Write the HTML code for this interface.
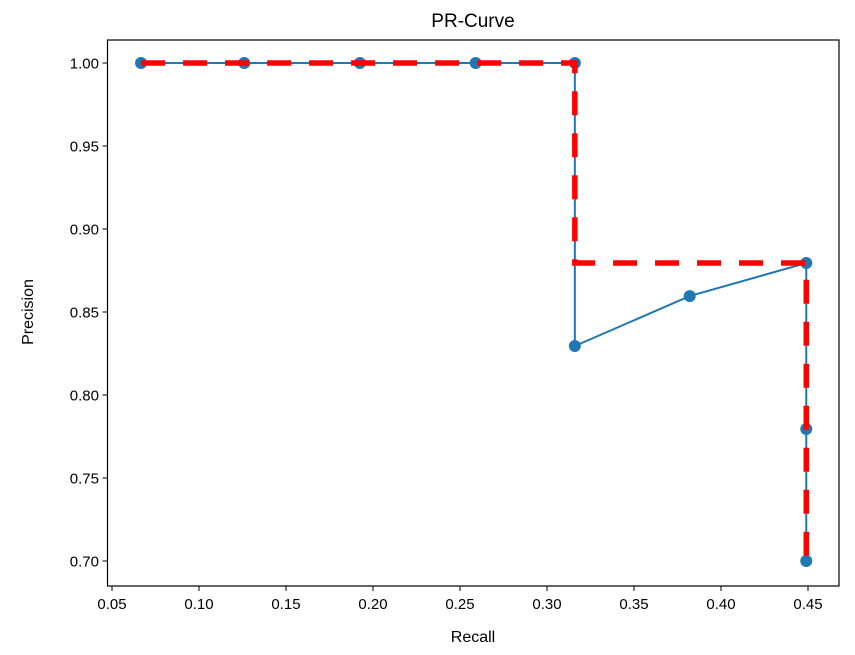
<!DOCTYPE html>
<html><head><meta charset="utf-8"><style>
body{margin:0;background:#fff;font-family:"Liberation Sans","DejaVu Sans",sans-serif;}
</style></head><body>
<svg id="chart" width="855" height="650" xmlns="http://www.w3.org/2000/svg">
<rect width="855" height="650" fill="#fff"/>
<text x="473" y="27" font-size="19" text-anchor="middle" fill="#000">PR-Curve</text>
<text x="473" y="642" font-size="16" text-anchor="middle" fill="#000">Recall</text>
<text x="33" y="312" font-size="16" text-anchor="middle" fill="#000" transform="rotate(-90 33 312)">Precision</text>
<g id="grid"></g>
<g id="marks"></g>
<rect x="107.5" y="40" width="731.5" height="546" fill="none" stroke="#000" stroke-width="1.2"/>
</svg>
<script>
const recall = [0.0667, 0.126, 0.1925, 0.259, 0.316, 0.316, 0.382, 0.449, 0.449, 0.449];
const precision = [1.0, 1.0, 1.0, 1.0, 1.0, 0.8295, 0.8596, 0.8795, 0.7795, 0.70];
const xTicks = [0.05, 0.10, 0.15, 0.20, 0.25, 0.30, 0.35, 0.40, 0.45];
const yTicks = [0.70, 0.75, 0.80, 0.85, 0.90, 0.95, 1.00];

const X = v => 112 + (v - 0.05) * 1740;
const Y = v => 561 - (v - 0.70) * 1660;
const NS = "http://www.w3.org/2000/svg";
const g = document.getElementById('grid'), m = document.getElementById('marks');
function mk(tag, attrs, parent){const e=document.createElementNS(NS,tag);for(const k in attrs)e.setAttribute(k,attrs[k]);parent.appendChild(e);return e;}

xTicks.forEach(t=>{
  const l=mk('line',{x1:X(t),x2:X(t),y1:586,y2:591,stroke:'#000'},g);
  
  
  const tx=mk('text',{x:X(t),y:609,'font-size':15,'text-anchor':'middle'},g);
  tx.textContent=t.toFixed(2);
  
  
});
yTicks.forEach(t=>{
  const l=mk('line',{x1:102.5,x2:107.5,y1:Y(t),y2:Y(t),stroke:'#000'},g);
  
  
  const tx=mk('text',{x:99,y:Y(t)+5.5,'font-size':15,'text-anchor':'end'},g);
  tx.textContent=t.toFixed(2);
  
  
});

const pl=mk('polyline',{points:recall.map((r,i)=>X(r)+','+Y(precision[i])).join(' '),fill:'none',stroke:'#1f77b4','stroke-width':2},m);



recall.forEach((r,i)=>{
  const c=mk('circle',{cx:X(r),cy:Y(precision[i]),r:6,fill:'#1f77b4'},m);
  
  
});

const interp = precision.map((p,i)=>Math.max(...precision.slice(i)));
let pts=[];
recall.forEach((r,i)=>{
  if(i>0) pts.push(X(r)+','+Y(interp[i-1]));
  pts.push(X(r)+','+Y(interp[i]));
});
const rl=mk('polyline',{points:pts.join(' '),fill:'none',stroke:'#ff0000','stroke-width':5.5,'stroke-dasharray':'24 18'},m);


</script>
</body></html>
